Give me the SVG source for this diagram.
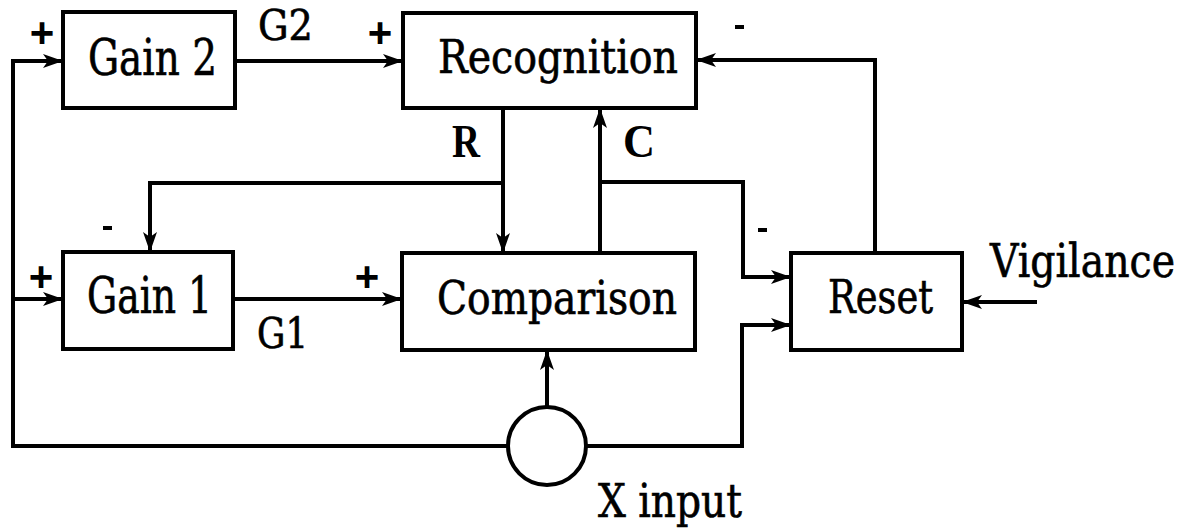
<svg xmlns="http://www.w3.org/2000/svg" width="1191" height="531" viewBox="0 0 1191 531">
<defs>
<marker id="arr" viewBox="0 0 20 14" refX="20" refY="7" markerWidth="20" markerHeight="14" markerUnits="userSpaceOnUse" orient="auto">
<path d="M0,0 L20,7 L0,14 L5,7 Z" fill="#000"/>
</marker>
<style>
.box{fill:#fff;stroke:#000;stroke-width:4}
.ln{fill:none;stroke:#000;stroke-width:4;stroke-linejoin:miter}
text{fill:#000}
.t{font-family:'DejaVu Serif Condensed','DejaVu Serif',serif;font-size:46px;stroke:#000;stroke-width:0.6}
.lb{font-family:'DejaVu Serif Condensed','DejaVu Serif',serif;font-size:42px;stroke:#000;stroke-width:0.6}
.bd{font-family:'Liberation Serif',serif;font-weight:bold;font-size:46px}
.sg{font-family:'Liberation Sans',Arial,sans-serif;font-weight:bold;font-size:42px;text-anchor:middle}
</style>
</defs>
<rect width="1191" height="531" fill="#fff"/>
<g id="connectors">
<path class="ln" d="M508,446 H13 V61 H63" marker-end="url(#arr)"/>
<path class="ln" d="M13,299 H63" marker-end="url(#arr)"/>
<path class="ln" d="M235,61 H403" marker-end="url(#arr)"/>
<path class="ln" d="M233,299 H402" marker-end="url(#arr)"/>
<path class="ln" d="M503,108 V253" marker-end="url(#arr)"/>
<path class="ln" d="M503,183 H150 V252" marker-end="url(#arr)"/>
<path class="ln" d="M600,253 V108" marker-end="url(#arr)"/>
<path class="ln" d="M600,182 H743 V277 H791" marker-end="url(#arr)"/>
<path class="ln" d="M875,253 V60 H696" marker-end="url(#arr)"/>
<path class="ln" d="M1037,302 H962" marker-end="url(#arr)"/>
<path class="ln" d="M587,446 H742 V325 H791" marker-end="url(#arr)"/>
<path class="ln" d="M547,407 V350" marker-end="url(#arr)"/>
</g>
<g id="gain2">
<rect class="box" x="63" y="12" width="172" height="96"/>
<text class="t" x="88" y="75" style="font-size:50px" textLength="129" lengthAdjust="spacingAndGlyphs">Gain 2</text>
</g>
<g id="recognition">
<rect class="box" x="403" y="13" width="293" height="95"/>
<text class="t" x="438" y="73" textLength="240" lengthAdjust="spacingAndGlyphs">Recognition</text>
</g>
<g id="gain1">
<rect class="box" x="63" y="252" width="170" height="97"/>
<text class="t" x="87" y="313" style="font-size:50px" textLength="125" lengthAdjust="spacingAndGlyphs">Gain 1</text>
</g>
<g id="comparison">
<rect class="box" x="402" y="253" width="293" height="97"/>
<text class="t" x="437" y="314" textLength="240" lengthAdjust="spacingAndGlyphs">Comparison</text>
</g>
<g id="reset">
<rect class="box" x="791" y="253" width="171" height="97"/>
<text class="t" x="828" y="313" textLength="105" lengthAdjust="spacingAndGlyphs">Reset</text>
</g>
<g id="xinput">
<circle class="box" cx="547" cy="446" r="39"/>
<text class="t" x="598" y="517" textLength="144" lengthAdjust="spacingAndGlyphs">X input</text>
</g>
<g id="labels">
<text class="t" x="990" y="277" textLength="185" lengthAdjust="spacingAndGlyphs">Vigilance</text>
<text class="lb" x="258" y="40" textLength="55" lengthAdjust="spacingAndGlyphs">G2</text>
<text class="lb" x="257" y="348" textLength="51" lengthAdjust="spacingAndGlyphs">G1</text>
<text class="bd" x="452" y="157" textLength="28" lengthAdjust="spacingAndGlyphs">R</text>
<text class="bd" x="623" y="157" textLength="32" lengthAdjust="spacingAndGlyphs">C</text>
<text class="sg" x="42" y="47">+</text>
<text class="sg" x="380" y="47">+</text>
<text class="sg" x="41" y="291">+</text>
<text class="sg" x="367" y="291">+</text>
<rect x="735" y="25" width="9" height="4" fill="#000"/>
<rect x="103" y="226" width="9" height="4" fill="#000"/>
<rect x="758" y="228" width="9" height="4" fill="#000"/>
</g>
</svg>
